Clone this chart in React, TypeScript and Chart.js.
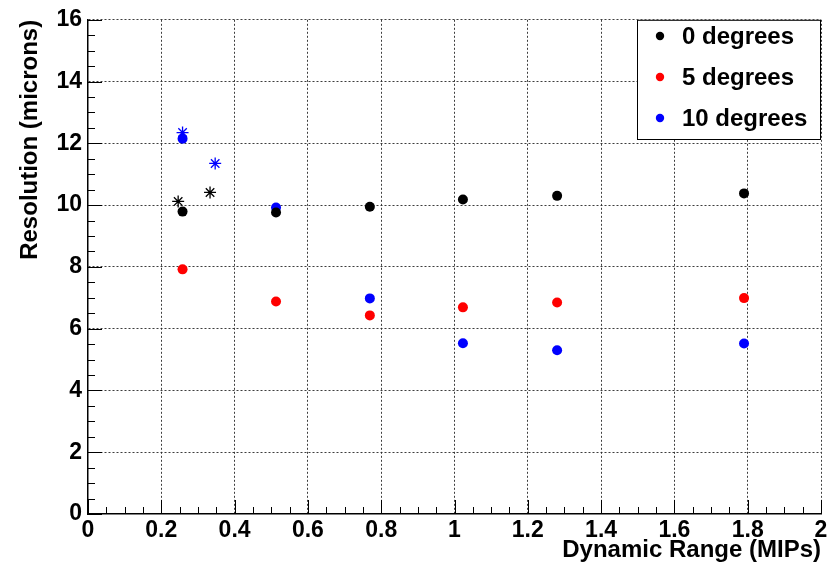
import React, { useEffect, useRef } from "react";
import { Chart, registerables } from "chart.js";

Chart.register(...registerables);

const dynamicRange = [0.258, 0.513, 0.769, 1.023, 1.28, 1.79];
const res0deg = [9.79, 9.76, 9.95, 10.18, 10.3, 10.38];
const res5deg = [7.92, 6.88, 6.43, 6.69, 6.85, 6.99];
const res10deg = [12.15, 9.92, 6.98, 5.53, 5.3, 5.52];

const starX0 = [0.246, 0.333];
const starY0 = [10.12, 10.41];
const starX10 = [0.258, 0.347];
const starY10 = [12.35, 11.35];

const seriesLabels = ["0 degrees", "5 degrees", "10 degrees"];
const seriesColors = ["#000000", "#ff0000", "#0000ff"];
const xTitle = "Dynamic Range (MIPs)";
const yTitle = "Resolution (microns)";

const FONT = "'Liberation Sans', Arial, Helvetica, sans-serif";
const FSIZE = 23;
const TSIZE = 24;

const toPts = (xs: number[], ys: number[]) => xs.map((x, i) => ({ x, y: ys[i] }));

const tickPlugin = {
  id: "rootTicks",
  beforeDatasetsDraw(chart: any) {
    const ctx = chart.ctx;
    const xs = chart.scales.x;
    const ys = chart.scales.y;
    const { left, bottom } = chart.chartArea;
    ctx.save();
    ctx.strokeStyle = "#000";
    ctx.lineWidth = 1;
    ctx.setLineDash([]);
    ctx.beginPath();
    for (let i = 0; i <= 40; i++) {
      const v = i * 0.05;
      const px = Math.round(xs.getPixelForValue(v)) + 0.5;
      const len = i % 4 === 0 ? 14 : 7;
      ctx.moveTo(px, bottom);
      ctx.lineTo(px, bottom - len);
    }
    for (let i = 0; i <= 32; i++) {
      const v = i * 0.5;
      const py = Math.round(ys.getPixelForValue(v)) + 0.5;
      const len = i % 4 === 0 ? 14 : 7;
      ctx.moveTo(left, py);
      ctx.lineTo(left + len, py);
    }
    ctx.stroke();
    ctx.restore();
  },
};

const legendPlugin = {
  id: "rootLegend",
  afterDraw(chart: any) {
    const ctx = chart.ctx;
    const { right, top } = chart.chartArea;
    const boxL = 637;
    const boxT = top;
    const boxR = right;
    const boxB = 140;
    ctx.save();
    ctx.setLineDash([]);
    ctx.fillStyle = "#fff";
    ctx.fillRect(boxL, boxT, boxR - boxL, boxB - boxT);
    ctx.strokeStyle = "#000";
    ctx.lineWidth = 1;
    ctx.strokeRect(boxL + 0.5, boxT + 0.5, boxR - boxL - 1, boxB - boxT - 1);
    const rows = [36, 77, 118];
    ctx.font = `bold ${TSIZE}px ${FONT}`;
    ctx.textBaseline = "middle";
    ctx.textAlign = "left";
    seriesLabels.forEach((lab, i) => {
      ctx.fillStyle = seriesColors[i];
      ctx.beginPath();
      ctx.arc(660, rows[i], 4.2, 0, Math.PI * 2);
      ctx.fill();
      ctx.fillStyle = "#000";
      ctx.fillText(lab, 682, rows[i] + 1);
    });
    ctx.restore();
  },
};

export default function App() {
  const ref = useRef<HTMLCanvasElement>(null);
  useEffect(() => {
    document.body.style.margin = "0";
    const canvas = ref.current;
    if (!canvas) return;
    const gridColor = (ctx: any) =>
      ctx.tick && ctx.tick.value === 0 ? "rgba(0,0,0,0)" : "rgba(40,40,40,0.9)";
    const fmt = (v: any) => String(Math.round(Number(v) * 10) / 10);
    const chart = new Chart(canvas, {
      type: "scatter",
      data: {
        datasets: [
          {
            label: seriesLabels[0],
            data: toPts(dynamicRange, res0deg),
            backgroundColor: seriesColors[0],
            borderWidth: 0,
            pointRadius: 5,
          },
          {
            label: seriesLabels[1],
            data: toPts(dynamicRange, res5deg),
            backgroundColor: seriesColors[1],
            borderWidth: 0,
            pointRadius: 5,
          },
          {
            label: seriesLabels[2],
            data: toPts(dynamicRange, res10deg),
            backgroundColor: seriesColors[2],
            borderWidth: 0,
            pointRadius: 5,
          },
          {
            label: "0 degrees star",
            data: toPts(starX0, starY0),
            pointStyle: "star",
            borderColor: seriesColors[0],
            backgroundColor: seriesColors[0],
            borderWidth: 1.3,
            pointRadius: 6,
          },
          {
            label: "10 degrees star",
            data: toPts(starX10, starY10),
            pointStyle: "star",
            borderColor: seriesColors[2],
            backgroundColor: seriesColors[2],
            borderWidth: 1.3,
            pointRadius: 6,
          },
        ],
      },
      options: {
        responsive: false,
        animation: false,
        layout: { padding: { top: 16, right: 19, left: 0, bottom: 0 } },
        plugins: {
          legend: { display: false },
          tooltip: { enabled: false },
        },
        scales: {
          x: {
            type: "linear",
            min: 0,
            max: 2,
            afterFit: (s: any) => {
              s.height = 52;
            },
            ticks: {
              stepSize: 0.2,
              color: "#000",
              padding: 3,
              maxRotation: 0,
              callback: fmt,
              font: { family: FONT, weight: "bold", size: FSIZE },
            },
            grid: {
              drawTicks: false,
              color: gridColor,
              lineWidth: 1,
            },
            border: { display: true, color: "#000", width: 1.5, dash: [2, 2] },
            title: {
              display: true,
              text: xTitle,
              align: "end",
              color: "#000",
              padding: { top: 0, bottom: 1 },
              font: { family: FONT, weight: "bold", size: TSIZE },
            },
          },
          y: {
            type: "linear",
            min: 0,
            max: 16,
            afterFit: (s: any) => {
              s.width = 88;
            },
            ticks: {
              stepSize: 2,
              color: "#000",
              padding: 6,
              callback: fmt,
              font: { family: FONT, weight: "bold", size: FSIZE },
            },
            grid: {
              drawTicks: false,
              color: gridColor,
              lineWidth: 1,
            },
            border: { display: true, color: "#000", width: 1.5, dash: [2, 2] },
            title: {
              display: true,
              text: yTitle,
              align: "end",
              color: "#000",
              padding: { top: 16, bottom: 0 },
              font: { family: FONT, weight: "bold", size: TSIZE },
            },
          },
        },
      } as any,
      plugins: [tickPlugin, legendPlugin],
    });
    return () => chart.destroy();
  }, []);
  return (
    <div style={{ width: 840, height: 566 }}>
      <canvas ref={ref} width={840} height={566} />
    </div>
  );
}
